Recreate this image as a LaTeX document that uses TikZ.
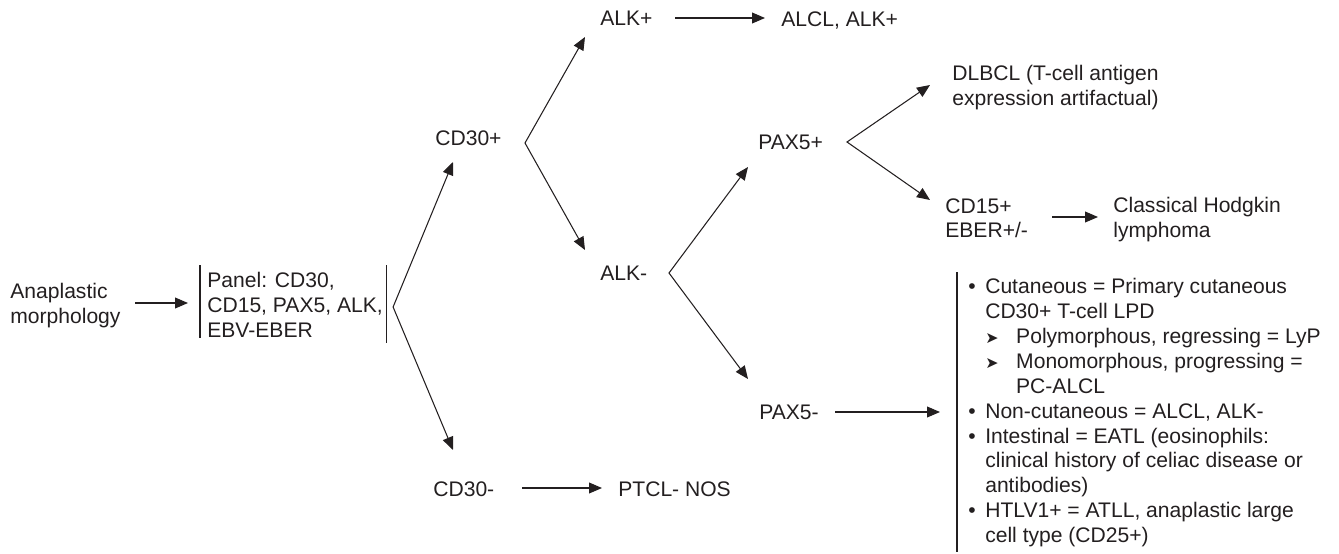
\documentclass[tikz,border=0pt]{standalone}
\usepackage{fontspec}
\setmainfont{Liberation Sans}
\newfontfamily\symfont{DejaVu Sans}
\usetikzlibrary{positioning, calc, arrows.meta}
\definecolor{ink}{HTML}{231F20}

\newcommand{\bul}{\makebox[9.64pt][l]{\textbullet}}
\newcommand{\subbul}{\hspace*{9.64pt}\makebox[17.6pt][l]{\symfont\fontsize{9}{9}\selectfont ➤}}
\newcommand{\ind}{\hspace*{9.64pt}}

\tikzset{
    lbl/.style={anchor=north west, inner sep=0pt, align=left, text=ink, font=\fontsize{12}{14.17}\selectfont},
    arr/.style={-{Triangle[length=7.4pt, width=6.2pt]}, line width=0.6pt, draw=ink},
    fork/.style={{Triangle[length=7.4pt, width=6.2pt]}-{Triangle[length=7.4pt, width=6.2pt]}, line width=0.6pt, draw=ink},
    bar/.style={line width=0.6pt, draw=ink}
}

\begin{document}
\begin{tikzpicture}[x=0.02cm, y=-0.02cm]
    \useasboundingbox (0,0) rectangle (1339,554);

    % Start and panel
    \node[lbl] (anap) at (10,283) {Anaplastic\\morphology};
    \node[lbl] (panel) at (207,272) {Panel: CD30,\\CD15, PAX5, ALK,\\EBV-EBER};
    \draw[arr] ($(anap.north west)+(125,20)$) -- ($(panel.north west)+(-19,31)$);
    \draw[bar] ($(panel.north west)+(-7,-7)$) -- ++(0,73);
    \draw[bar] ($(panel.north east)+(3,-7)$) -- ++(0,78);

    % CD30
    \node[lbl] (cdp) at (435,130) {CD30+};
    \node[lbl] (cdm) at (433,481) {CD30-};
    \node[lbl] (ptcl) at (618,481) {PTCL- NOS};
    \coordinate (pv) at ($(panel.north east)+(10,35)$);
    \draw[fork] ($(cdp.north west)+(18,32)$) -- (pv) -- ($(cdm.north west)+(20,-31)$);
    \draw[arr] ($(cdm.north west)+(89,7)$) -- ($(ptcl.north west)+(-16,7)$);

    % ALK
    \node[lbl] (alkp) at (600,11) {ALK+};
    \node[lbl] (alkm) at (600,266) {ALK-};
    \node[lbl] (alclp) at (781,11) {ALCL, ALK+};
    \coordinate (cv) at ($(cdp.north west)+(90,13)$);
    \draw[fork] ($(alkp.north west)+(-15,26)$) -- (cv) -- ($(alkm.north west)+(-15,-16)$);
    \draw[arr] ($(alkp.north west)+(75,7)$) -- ($(alclp.north west)+(-16,7)$);

    % PAX5
    \node[lbl] (paxp) at (758,135) {PAX5+};
    \node[lbl] (paxm) at (759,405) {PAX5-};
    \coordinate (av) at ($(alkm.north west)+(69,7)$);
    \draw[fork] ($(paxp.north west)+(-10,32)$) -- (av) -- ($(paxm.north west)+(-11,-26)$);

    % PAX5+ outcomes
    \node[lbl] (dlbcl) at (952,65) {DLBCL (T-cell antigen\\expression artifactual)};
    \node[lbl] (cdfif) at (945,198) {CD15+\\EBER+/-};
    \node[lbl] (chl) at (1113,197) {Classical Hodgkin\\lymphoma};
    \coordinate (xv) at ($(paxp.north west)+(89,7)$);
    \draw[fork] ($(dlbcl.north west)+(-22,20)$) -- (xv) -- ($(cdfif.north west)+(-15,2)$);
    \draw[arr] ($(cdfif.north west)+(107,19)$) -- ($(chl.north west)+(-15,20)$);

    % PAX5- outcomes
    \node[lbl] (list) at (968,278) {\bul Cutaneous = Primary cutaneous\\
        \ind CD30+ T-cell LPD\\
        \subbul Polymorphous, regressing = LyP\\
        \subbul Monomorphous, progressing =\\
        \hspace*{27.2pt}PC-ALCL\\
        \bul Non-cutaneous = ALCL, ALK-\\
        \bul Intestinal = EATL (eosinophils:\\
        \ind clinical history of celiac disease or\\
        \ind antibodies)\\
        \bul HTLV1+ = ATLL, anaplastic large\\
        \ind cell type (CD25+)};
    \draw[bar] ($(list.north west)+(-11,-6)$) -- ++(0,280);
    \draw[arr] ($(paxm.north west)+(76,7)$) -- ($(list.north west)+(-28,134)$);
\end{tikzpicture}
\end{document}
